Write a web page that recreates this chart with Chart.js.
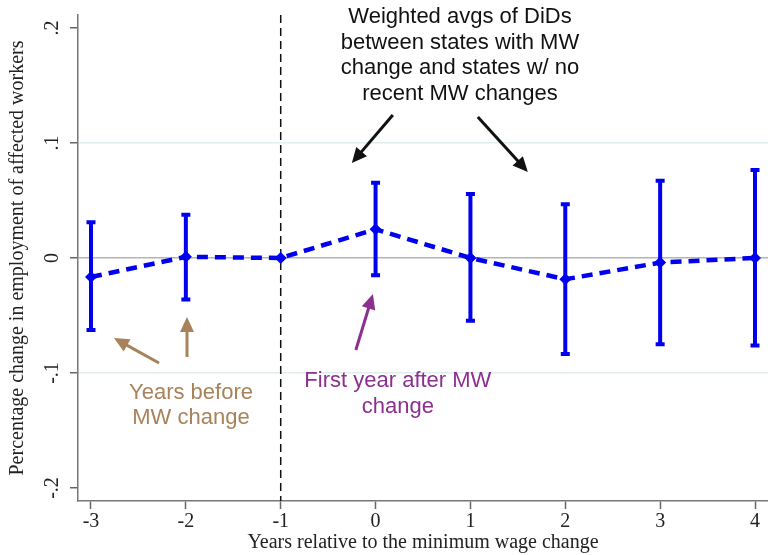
<!DOCTYPE html>
<html>
<head>
<meta charset="utf-8">
<script src="https://cdn.jsdelivr.net/npm/chart.js@4"></script>
<style>
  body { margin: 0; background: #fff; }
  #wrap { width: 768px; height: 555px; }
</style>
</head>
<body>
<div id="wrap"><canvas id="eventChart" width="768" height="555"></canvas></div>
<script>
// event-study estimates
const years = [-3, -2, -1, 0, 1, 2, 3, 4];
const estimates = [-0.0165, 0.001, 0, 0.025, 0, -0.0185, -0.004, 0];
const ciLower = [-0.0626, -0.036, 0, -0.015, -0.0545, -0.0835, -0.075, -0.076];
const ciUpper = [0.031, 0.0377, 0, 0.0655, 0.0557, 0.0467, 0.0672, 0.0765];
const xTicks = [-3, -2, -1, 0, 1, 2, 3, 4];
const yTicks = [-0.2, -0.1, 0, 0.1, 0.2];
const yTickLabels = ["-.2", "-.1", "0", ".1", ".2"];

const serif = "'Liberation Serif', 'DejaVu Serif', serif";
const sans = "'Liberation Sans', Arial, sans-serif";

// text notes and arrows (positions in data units)
const notes = [
  { lines: ["Weighted avgs of DiDs", "between states with MW", "change and states w/ no", "recent MW changes"],
    x: 0.89, y: 0.2096, color: "#111", step: 25.5 },
  { lines: ["Years before", "MW change"], x: -1.946, y: -0.1171, color: "#a8825a", step: 25 },
  { lines: ["First year after MW", "change"], x: 0.235, y: -0.107, color: "#8c2f90", step: 26 }
];
const arrows = [
  { from: [0.182, 0.1243], to: [-0.25, 0.0826], color: "#111" },
  { from: [1.078, 0.1226], to: [1.605, 0.0748], color: "#111" },
  { from: [-2.283, -0.0913], to: [-2.758, -0.0696], color: "#a8825a" },
  { from: [-1.988, -0.0861], to: [-1.988, -0.0513], color: "#a8825a" },
  { from: [-0.208, -0.08], to: [-0.028, -0.0313], color: "#8c2f90" }
];

function drawArrow(ctx, x1, y1, x2, y2, color) {
  const ang = Math.atan2(y2 - y1, x2 - x1);
  const head = 15, half = 7;
  ctx.save();
  ctx.strokeStyle = color;
  ctx.fillStyle = color;
  ctx.lineWidth = 3;
  ctx.beginPath();
  ctx.moveTo(x1, y1);
  ctx.lineTo(x2 - Math.cos(ang) * head * 0.8, y2 - Math.sin(ang) * head * 0.8);
  ctx.stroke();
  ctx.beginPath();
  ctx.moveTo(x2, y2);
  ctx.lineTo(x2 - Math.cos(ang) * head + Math.sin(ang) * half, y2 - Math.sin(ang) * head - Math.cos(ang) * half);
  ctx.lineTo(x2 - Math.cos(ang) * head - Math.sin(ang) * half, y2 - Math.sin(ang) * head + Math.cos(ang) * half);
  ctx.closePath();
  ctx.fill();
  ctx.restore();
}

const extras = {
  id: "extras",
  beforeDatasetsDraw(chart) {
    const ctx = chart.ctx;
    const xs = chart.scales.x, ys = chart.scales.y;
    const area = chart.chartArea;
    // reference line at -1
    ctx.save();
    ctx.strokeStyle = "#111";
    ctx.lineWidth = 1.5;
    ctx.setLineDash([8, 5]);
    const vx = xs.getPixelForValue(-1);
    ctx.beginPath();
    ctx.moveTo(vx, area.top);
    ctx.lineTo(vx, area.bottom);
    ctx.stroke();
    ctx.restore();
    // confidence intervals
    ctx.save();
    ctx.strokeStyle = "#0000ee";
    ctx.lineWidth = 4;
    years.forEach(function (yr, i) {
      if (ciLower[i] === ciUpper[i]) return;
      const px = xs.getPixelForValue(yr);
      const lo = ys.getPixelForValue(ciLower[i]);
      const hi = ys.getPixelForValue(ciUpper[i]);
      ctx.beginPath();
      ctx.moveTo(px, lo);
      ctx.lineTo(px, hi);
      ctx.moveTo(px - 4.5, lo);
      ctx.lineTo(px + 4.5, lo);
      ctx.moveTo(px - 4.5, hi);
      ctx.lineTo(px + 4.5, hi);
      ctx.stroke();
    });
    ctx.restore();
  },
  afterDraw(chart) {
    const ctx = chart.ctx;
    const xs = chart.scales.x, ys = chart.scales.y;
    // rotated y tick labels, Stata style
    ctx.save();
    ctx.fillStyle = "#222";
    ctx.font = "20px " + serif;
    ctx.textAlign = "center";
    ctx.textBaseline = "middle";
    yTicks.forEach(function (v, i) {
      ctx.save();
      ctx.translate(53, ys.getPixelForValue(v));
      ctx.rotate(-Math.PI / 2);
      ctx.fillText(yTickLabels[i], 0, 0);
      ctx.restore();
    });
    ctx.restore();
    // notes
    ctx.save();
    ctx.font = "22px " + sans;
    ctx.textAlign = "center";
    ctx.textBaseline = "middle";
    notes.forEach(function (n) {
      ctx.fillStyle = n.color;
      const cx = xs.getPixelForValue(n.x);
      const cy = ys.getPixelForValue(n.y);
      n.lines.forEach(function (line, k) {
        ctx.fillText(line, cx, cy + k * n.step);
      });
    });
    ctx.restore();
    arrows.forEach(function (a) {
      drawArrow(ctx,
        xs.getPixelForValue(a.from[0]), ys.getPixelForValue(a.from[1]),
        xs.getPixelForValue(a.to[0]), ys.getPixelForValue(a.to[1]), a.color);
    });
  }
};

const ctx = document.getElementById("eventChart").getContext("2d");
const chart = new Chart(ctx, {
  type: "scatter",
  data: {
    datasets: [{
      data: years.map(function (yr, i) { return { x: yr, y: estimates[i] }; }),
      showLine: true,
      borderColor: "#0000ee",
      borderWidth: 4.5,
      borderDash: [11, 7],
      pointStyle: "rectRot",
      pointRadius: 6,
      pointBackgroundColor: "#0000ee",
      pointBorderColor: "#0000ee",
      pointBorderWidth: 0
    }]
  },
  options: {
    responsive: false,
    animation: false,
    layout: { autoPadding: false, padding: { top: 15, left: 0, right: 0, bottom: 0 } },
    plugins: { legend: { display: false }, tooltip: { enabled: false } },
    scales: {
      x: {
        type: "linear",
        min: -3.137,
        max: 4.137,
        afterBuildTicks: function (scale) {
          scale.ticks = xTicks.map(function (v) { return { value: v }; });
        },
        afterFit: function (scale) {
          scale.height = 54;
          scale.paddingLeft = 0;
          scale.paddingRight = 0;
        },
        ticks: {
          color: "#222",
          font: { family: serif, size: 20 },
          padding: 1,
          maxRotation: 0,
          callback: function (v) { return String(v); }
        },
        grid: { drawOnChartArea: false, tickLength: 8, tickColor: "#666", tickWidth: 1.5 },
        border: { color: "#777", width: 1.5 },
        title: {
          display: true,
          text: "Years relative to the minimum wage change",
          color: "#222",
          font: { family: serif, size: 20 },
          padding: { top: 0, bottom: 0 }
        }
      },
      y: {
        type: "linear",
        min: -0.2113,
        max: 0.2113,
        afterBuildTicks: function (scale) {
          scale.ticks = yTicks.map(function (v) { return { value: v }; });
        },
        afterFit: function (scale) { scale.width = 78; },
        ticks: { color: "transparent", font: { family: serif, size: 17 } },
        grid: {
          color: function (c) {
            const v = c.tick ? c.tick.value : null;
            if (v === 0) return "#b4b4b4";
            if (Math.abs(Math.abs(v) - 0.1) < 1e-9) return "#e2ebee";
            return "transparent";
          },
          lineWidth: 1.5,
          tickLength: 8,
          tickColor: "#666",
          tickWidth: 1.5
        },
        border: { color: "#777", width: 1.5 },
        title: {
          display: true,
          text: "Percentage change in employment of affected workers",
          color: "#222",
          font: { family: serif, size: 20 },
          padding: { top: 6, bottom: 0 }
        }
      }
    }
  },
  plugins: [extras]
});
</script>
</body>
</html>
